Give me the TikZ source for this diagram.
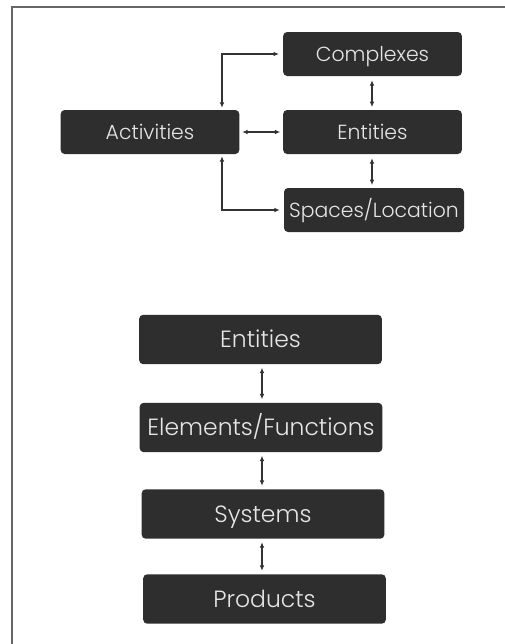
\documentclass[tikz,border=0pt]{standalone}
\usepackage{fontspec}
\setmainfont{Poppins}[UprightFont=* Light]
\usetikzlibrary{arrows.meta}
\definecolor{boxfill}{HTML}{2E2E2E}
\definecolor{boxtext}{HTML}{E6E6E6}
\definecolor{linecol}{HTML}{333333}
\tikzset{
  topbox/.style={rectangle, rounded corners=3pt, fill=boxfill, text=boxtext,
    minimum width=134pt, minimum height=33pt, inner sep=0pt,
    text height=10.7pt, text depth=0pt,
    font=\fontsize{15.3}{18}\selectfont},
  botbox/.style={rectangle, rounded corners=3pt, fill=boxfill, text=boxtext,
    minimum width=182pt, minimum height=37pt, inner sep=0pt,
    text height=12.3pt, text depth=0pt,
    font=\fontsize{17.6}{20}\selectfont},
  conn/.style={draw=linecol, line width=1pt, {Latex[length=4pt,width=3.5pt]}-{Latex[length=4pt,width=3.5pt]}},
}
\begin{document}
\begin{tikzpicture}[x=0.75pt,y=-0.75pt]
\useasboundingbox (0,0) rectangle (505,644);
\draw[draw=gray!80!black, line width=1.2pt] (505,7) -- (12,7) -- (12,644);
% top diagram
\node[topbox] (comp) at (372.5,54) {Complexes};
\node[topbox] (act) at (150,132) {Activities};
\node[topbox] (ent) at (372.5,132) {Entities};
\node[topbox, minimum width=135pt] (spc) at (374,210) {Spaces/Location};
\coordinate (ax) at (222,0);
\coordinate (vx) at (372,0);
\draw[conn, shorten <=1.5pt, shorten >=3pt] (act.north -| ax) |- (comp.west);
\draw[conn, shorten <=1.5pt, shorten >=3pt] (act.south -| ax) |- (spc.west);
\draw[conn, shorten <=2pt, shorten >=2pt] (act.east) -- (ent.west);
\draw[conn, shorten <=3pt, shorten >=2pt] (comp.south -| vx) -- (ent.north -| vx);
\draw[conn, shorten <=3pt, shorten >=2pt] (ent.south -| vx) -- (spc.north -| vx);
% bottom diagram
\node[botbox] (b1) at (260.5,339.5) {Entities};
\node[botbox] (b2) at (261,427.5) {Elements/Functions};
\node[botbox] (b3) at (263,514) {Systems};
\node[botbox] (b4) at (264.5,599) {Products};
\coordinate (bx) at (262,0);
\draw[conn, shorten <=2.5pt, shorten >=2.5pt] (b1.south -| bx) -- (b2.north -| bx);
\draw[conn, shorten <=2.5pt, shorten >=2.5pt] (b2.south -| bx) -- (b3.north -| bx);
\draw[conn, shorten <=2.5pt, shorten >=2.5pt] (b3.south -| bx) -- (b4.north -| bx);
\end{tikzpicture}
\end{document}
